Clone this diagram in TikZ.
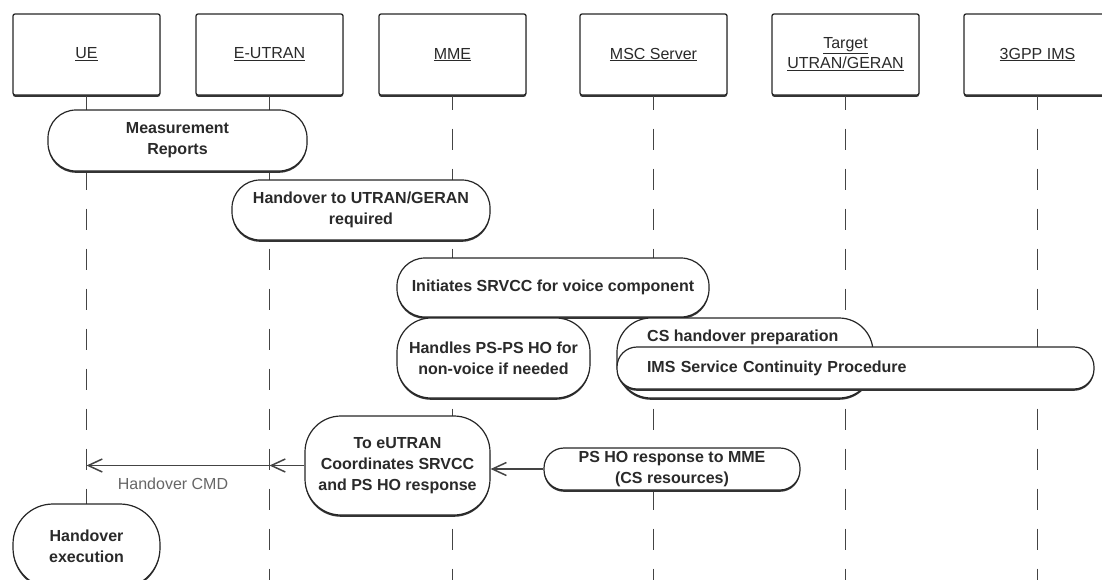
\documentclass[tikz,border=0pt]{standalone}
\usepackage{fontspec}
\setmainfont{Liberation Sans}
\usepackage{tikz}
\usetikzlibrary{arrows.meta}
\usetikzlibrary{shadows}
\definecolor{linegray}{HTML}{444444}
\definecolor{txtgray}{HTML}{2A2A2A}
\tikzset{
hdr/.style={draw=black!85, line width=1.3pt, fill=white, rounded corners=2pt,
  minimum width=147pt, minimum height=81pt, inner sep=0pt, align=center,
  font=\fontsize{16}{21}\selectfont, text=txtgray,
  drop shadow={shadow xshift=0pt, shadow yshift=-1.8pt, fill=black!80, opacity=1}},
act/.style={draw=black!85, line width=1.2pt, fill=white, rounded corners=28pt,
  inner sep=0pt, align=center, font=\bfseries\fontsize{16}{21}\selectfont, text=txtgray,
  drop shadow={shadow xshift=0pt, shadow yshift=-1.8pt, fill=black!80, opacity=1}},
acttxt/.style={inner sep=0pt, font=\bfseries\fontsize{16}{21}\selectfont, text=txtgray},
lifeline/.style={draw=linegray, line width=1.7pt, dash pattern=on 21pt off 19pt, dash phase=7pt},
msg/.style={draw=linegray, line width=1.5pt, -{Straight Barb[length=14pt, width=13pt]}}
}

\begin{document}
\begin{tikzpicture}[x=1pt, y=-1pt]
    \useasboundingbox (0,0) rectangle (1102,579);
    \clip (0,0) rectangle (1102,579);
    \coordinate (bottom) at (0,590);

    % entities
    \node[hdr] (ue) at (86.5,54.5) {\underline{UE}};
    \node[hdr] (eutran) at (269.5,54.5) {\underline{E-UTRAN}};
    \node[hdr] (mme) at (452.5,54.5) {\underline{MME}};
    \node[hdr] (msc) at (653.5,54.5) {\underline{MSC Server}};
    \node[hdr] (target) at (845.5,54.5) {\underline{Target}\\[-1pt]\underline{UTRAN/GERAN}};
    \node[hdr] (ims) at (1037.5,54.5) {\underline{3GPP IMS}};

    % lifelines
    \foreach \n in {ue,eutran,mme,msc,target,ims}
        \draw[lifeline] (\n.south) -- (\n.south |- bottom);

    % activities
    \node[act, minimum width=259pt, minimum height=61pt] (meas) at (177.5,140.5) {Measurement\\Reports};
    \node[act, minimum width=258pt, minimum height=60pt] (horeq) at (361,210) {Handover to UTRAN/GERAN\\required};
    \node[act, minimum width=312pt, minimum height=59pt] (init) at (553,287.5) {Initiates SRVCC for voice component};
    \node[act, minimum width=193pt, minimum height=80pt, rounded corners=34pt] (handles) at (493.5,358) {Handles PS-PS HO for\\non-voice if needed};
    \node[act, minimum width=256pt, minimum height=80pt, rounded corners=34pt] (csprep) at (745,358) {};
    \node[acttxt, anchor=west] (cstxt) at (647,337) {CS handover preparation};
    \node[act, rounded corners=20pt, minimum height=42pt, inner xsep=30pt, text width=417pt, align=left] (imssc) at (855.5,368) {IMS Service Continuity Procedure};
    \node[act, minimum width=185pt, minimum height=99pt, rounded corners=36pt] (coord) at (397.5,465.5) {To eUTRAN\\Coordinates SRVCC\\and PS HO response};
    \node[act, minimum width=256pt, minimum height=42pt, rounded corners=20pt] (psresp) at (672,469) {PS HO response to MME\\(CS resources)};
    \node[act, minimum width=147pt, minimum height=84pt, rounded corners=40pt] (hoexec) at (86.5,546) {Handover\\execution};

    % messages
    \draw[msg] (psresp.west) -- (psresp.west -| coord.east);
    \draw[msg] (coord.west) -- (coord.west -| eutran.south);
    \draw[msg] (coord.west -| eutran.south) -- (coord.west -| ue.south);
    \node[font=\fontsize{16}{21}\selectfont, text=black!60] (cmd) at (173,484) {Handover CMD};

\end{tikzpicture}
\end{document}
